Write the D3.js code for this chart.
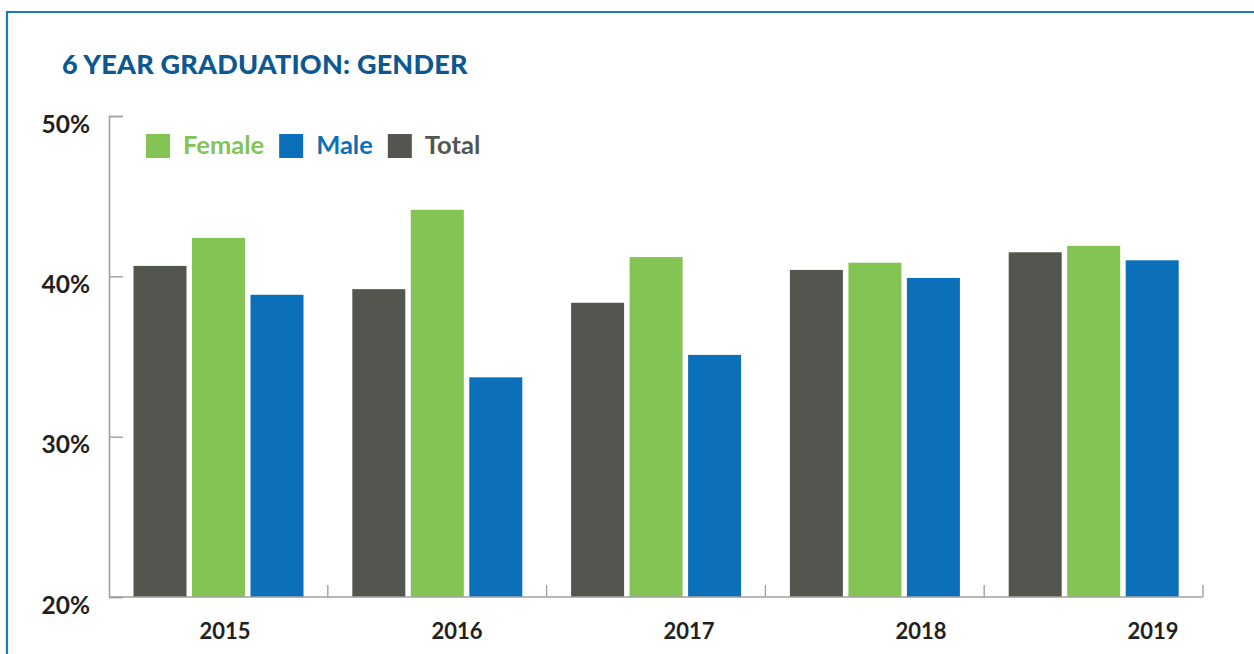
<!DOCTYPE html>
<html>
<head>
<meta charset="utf-8">
<script src="https://cdn.jsdelivr.net/npm/d3@7"></script>
<style>
  html, body { margin: 0; padding: 0; background: #fff; }
  svg { display: block; }
  text { font-family: Lato, "Open Sans", sans-serif; }
</style>
</head>
<body>
<svg id="chart" width="1254" height="654"></svg>
<script>
const years = ["2015", "2016", "2017", "2018", "2019"];
const seriesNames = ["Total", "Female", "Male"];
const totalValues = [40.65, 39.2, 38.35, 40.4, 41.5];
const femaleValues = [42.4, 44.15, 41.2, 40.85, 41.9];
const maleValues = [38.85, 33.7, 35.1, 39.9, 41.0];
const yTicks = [20, 30, 40, 50];
const legendItems = ["Female", "Male", "Total"];
const titleText = "6 YEAR GRADUATION: GENDER";

(function () {
const colors = { Total: "#53564f", Female: "#83c455", Male: "#0b70b9" };
const valuesBySeries = { Total: totalValues, Female: femaleValues, Male: maleValues };

const svg = d3.select("#chart");

// frame
svg.append("path")
  .attr("d", "M7,660 L7,12 L1260,12")
  .attr("fill", "none")
  .attr("stroke", "#1a78c2")
  .attr("stroke-width", 2.2);

// title
svg.append("text")
  .attr("x", 62).attr("y", 73.5)
  .attr("fill", "#0d5891")
  .attr("font-size", 27)
  .attr("font-weight", 900)
  .attr("letter-spacing", 0.2)
  .text(titleText);

const pLeft = 109, pRight = 1203, pTop = 116, pBottom = 597;

const x0 = d3.scaleBand().domain(years).range([pLeft, pRight]).padding(0);
const x1 = d3.scaleBand().domain(seriesNames).range([24.5, 194.5]).paddingInner(0.094).paddingOuter(0);
const y = d3.scaleLinear().domain([20, 50]).range([pBottom, pTop]);
const xLabel = d3.scalePoint().domain(years).range([225, 1153]);

// bars
const groups = svg.append("g").selectAll("g")
  .data(years).join("g")
  .attr("transform", d => `translate(${x0(d)},0)`);

groups.selectAll("rect")
  .data((yr, i) => seriesNames.map(s => ({ s, v: valuesBySeries[s][i] })))
  .join("rect")
  .attr("x", d => x1(d.s))
  .attr("width", x1.bandwidth())
  .attr("y", d => y(d.v))
  .attr("height", d => y(20) - y(d.v))
  .attr("fill", d => colors[d.s]);

// y axis
const yAxis = d3.axisLeft(y).tickValues(yTicks).tickSize(-14).tickPadding(19)
  .tickFormat(d => d + "%");
const yg = svg.append("g").attr("transform", `translate(${pLeft},0)`).call(yAxis);
yg.select(".domain").attr("stroke", "#a0a0a0").attr("stroke-width", 1.6);
yg.selectAll(".tick line").attr("stroke", "#a0a0a0").attr("stroke-width", 1.4);
yg.selectAll(".tick text")
  .attr("dy", 16)
  .attr("font-size", 24.5)
  .attr("font-weight", 700)
  .attr("fill", "#231f20")
  .attr("font-family", "Lato, sans-serif");

// x axis baseline + boundary ticks
svg.append("line")
  .attr("x1", pLeft).attr("x2", pRight)
  .attr("y1", pBottom).attr("y2", pBottom)
  .attr("stroke", "#a0a0a0").attr("stroke-width", 1.6);
const boundaries = years.slice(1).map(d => x0(d)).concat([x0.range()[1]]);
svg.append("g").selectAll("line")
  .data(boundaries).join("line")
  .attr("x1", d => d).attr("x2", d => d)
  .attr("y1", pBottom).attr("y2", pBottom - 12)
  .attr("stroke", "#a0a0a0").attr("stroke-width", 1.4);

svg.append("g").selectAll("text")
  .data(years).join("text")
  .attr("x", d => xLabel(d))
  .attr("y", 639)
  .attr("text-anchor", "middle")
  .attr("font-size", 22)
  .attr("font-weight", 700)
  .attr("fill", "#231f20")
  .text(d => d);

// legend
const legend = svg.append("g").attr("transform", "translate(146,134)");
let lx = 0;
legendItems.forEach(name => {
  const g = legend.append("g").attr("transform", `translate(${lx},0)`);
  g.append("rect").attr("width", 24).attr("height", 24).attr("fill", colors[name]);
  const t = g.append("text")
    .attr("x", 37).attr("y", 20)
    .attr("font-size", 25.5)
    .attr("font-weight", 700)
    .attr("fill", colors[name])
    .text(name);
  lx += 37 + t.node().getComputedTextLength() + 15;
});
})();
</script>
</body>
</html>
